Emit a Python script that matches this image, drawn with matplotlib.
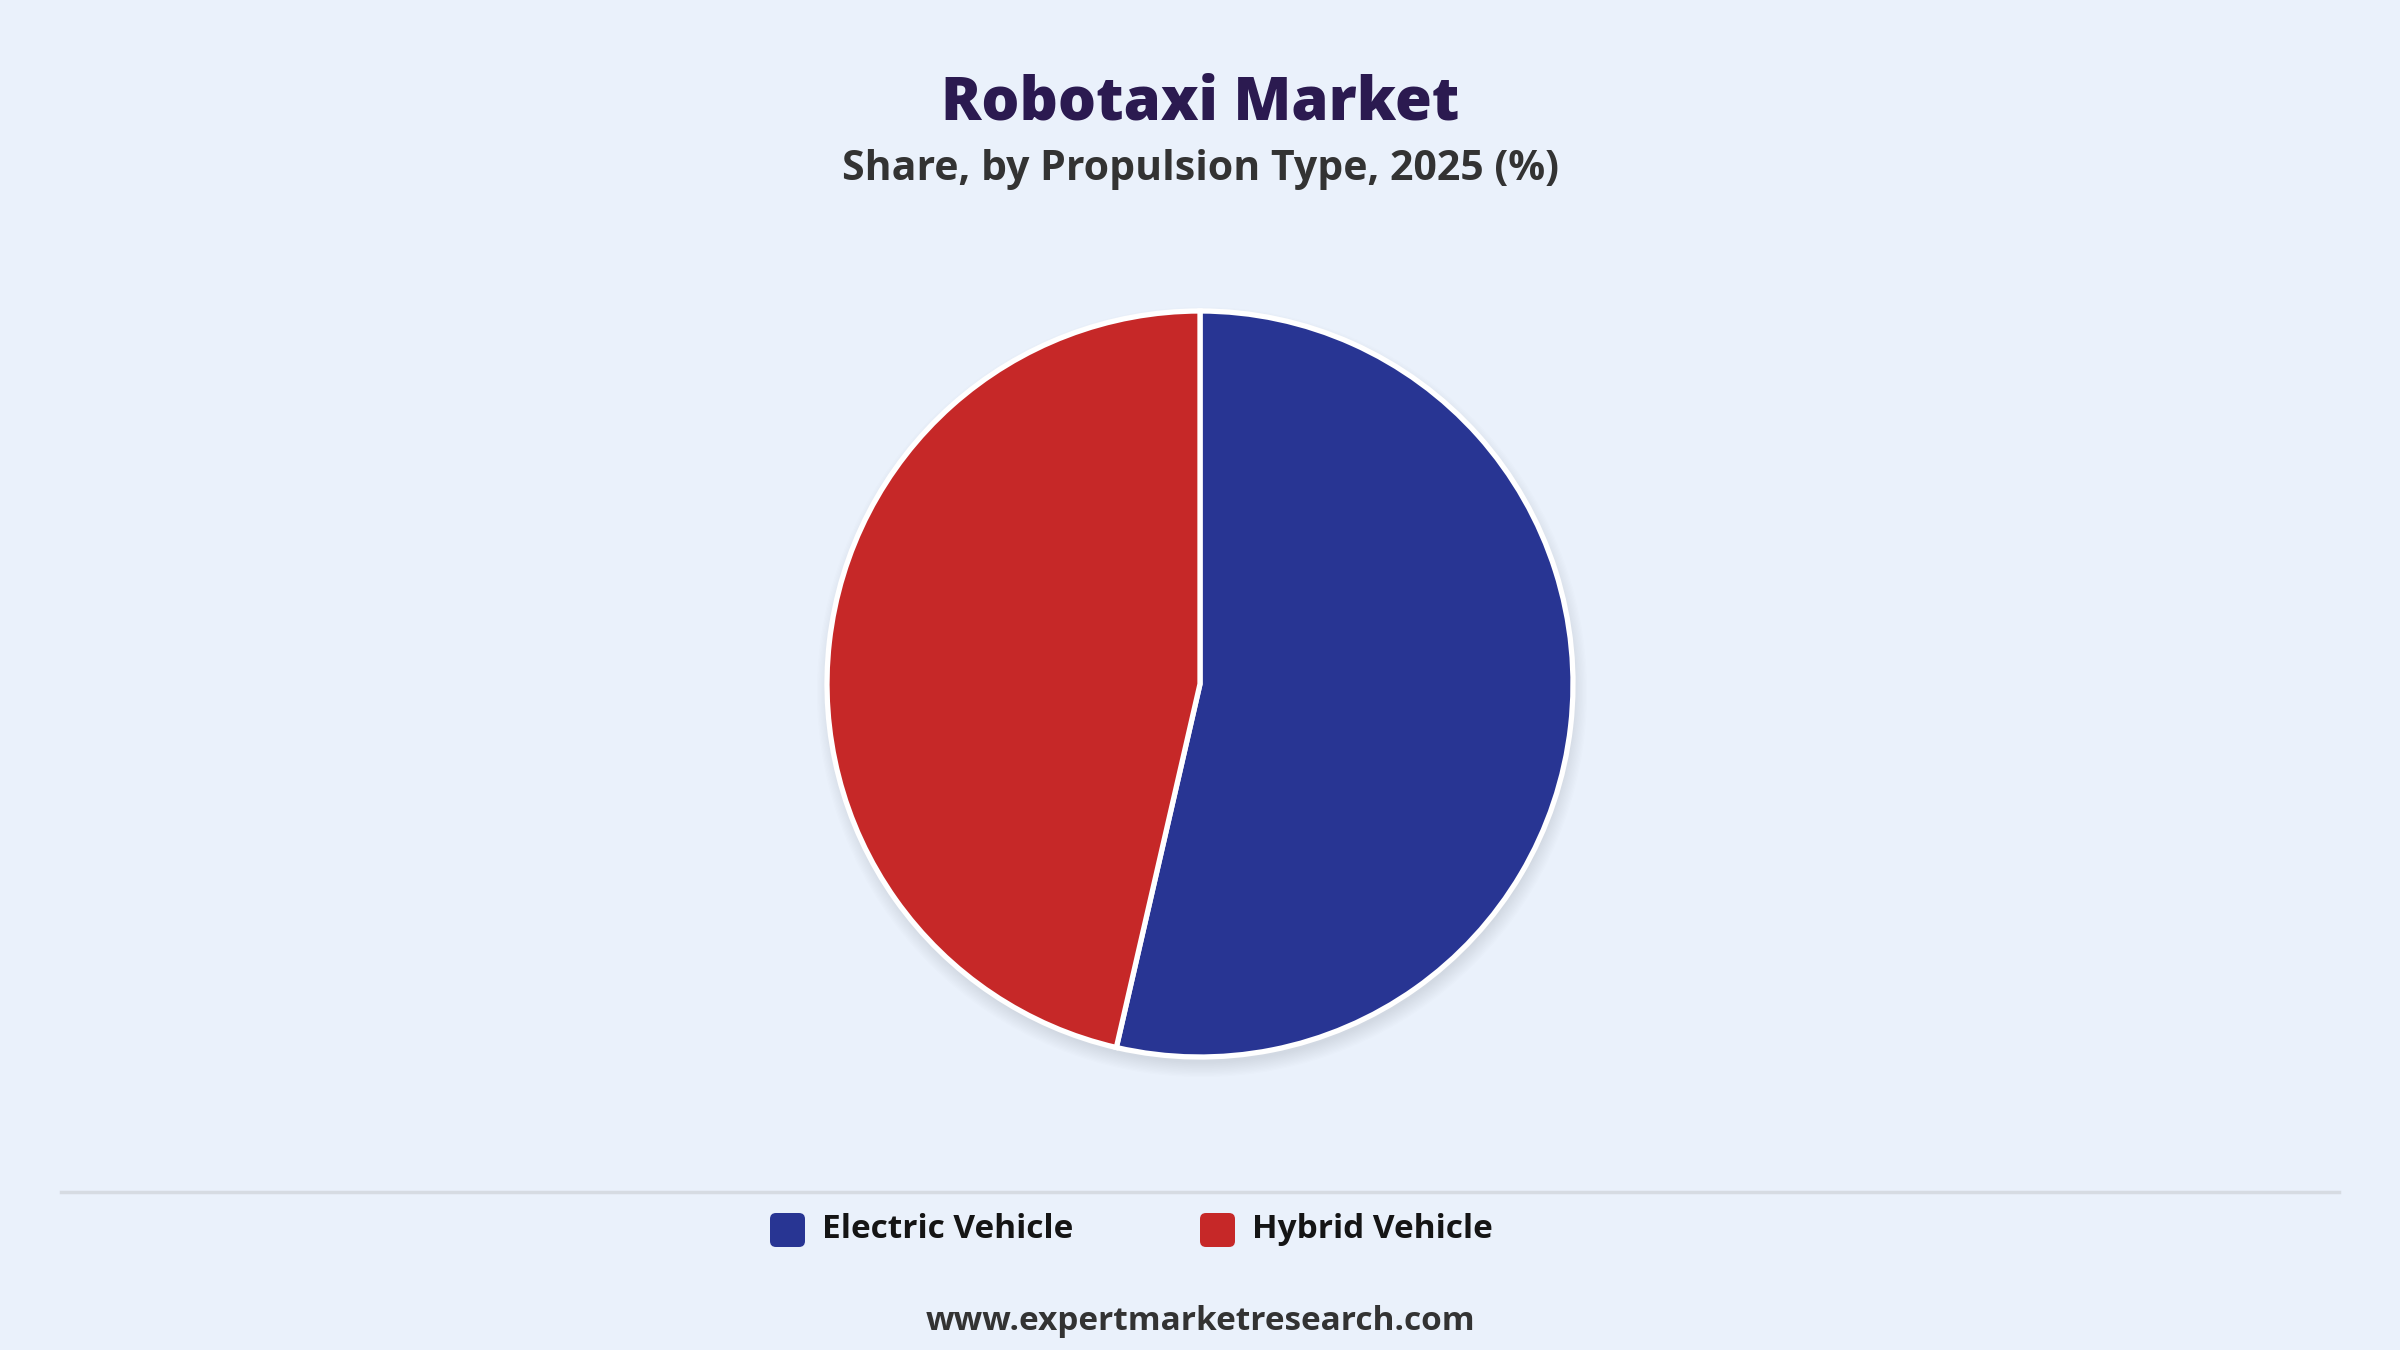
import matplotlib
matplotlib.use("Agg")
import matplotlib.pyplot as plt
from matplotlib.patches import Circle, FancyBboxPatch

# Data
categories = ["Electric Vehicle", "Hybrid Vehicle"]
shares = [53.6, 46.4]
colors = ["#283593", "#c62828"]

title = "Robotaxi Market"
subtitle = "Share, by Propulsion Type, 2025 (%)"
source = "www.expertmarketresearch.com"

BG = "#eaf1fb"
W, H = 2400, 1350

plt.rcParams['font.family'] = ['Open Sans', 'DejaVu Sans']

fig = plt.figure(figsize=(24, 13.5), dpi=100, facecolor=BG)
ax = fig.add_axes([0, 0, 1, 1])
ax.set_facecolor(BG)

cx, cy, r = 1200, H - 684, 373

# soft shadow (offset downward)
for i in range(12):
    ax.add_patch(Circle((cx + 2, cy - 8), r + 12 - i * 1.3, color="#8c95a3",
                        alpha=0.02, lw=0, zorder=1))

ax.pie(shares, colors=colors, center=(cx, cy), radius=r, startangle=90,
       counterclock=False,
       wedgeprops=dict(edgecolor="white", linewidth=3.8, zorder=2))

ax.set_xlim(0, W)
ax.set_ylim(0, H)
ax.set_aspect("equal")
ax.axis("off")

# titles
ax.text(W / 2, H - 104, title, ha="center", va="center", fontsize=43,
        fontweight="heavy", color="#2b1a50")
ax.text(W / 2, H - 169, subtitle, ha="center", va="center", fontsize=29.5,
        fontweight="bold", color="#333333")

# separator
ax.plot([61, 2339], [H - 1192, H - 1192], color="#d6dbe2", lw=2.5)

# legend
leg_x = [770, 1200]
ly = H - 1230
for x, c, lab in zip(leg_x, colors, categories):
    ax.add_patch(FancyBboxPatch((x, ly - 17), 35, 34,
                                boxstyle="round,pad=0,rounding_size=6",
                                fc=c, ec="none"))
    ax.text(x + 52, ly + 1, lab, ha="left", va="center", fontsize=24,
            fontweight="bold", color="#151515")

ax.text(W / 2, H - 1322, source, ha="center", va="center", fontsize=24,
        fontweight="bold", color="#333333")

fig.savefig("out.png", dpi=100, facecolor=BG)
